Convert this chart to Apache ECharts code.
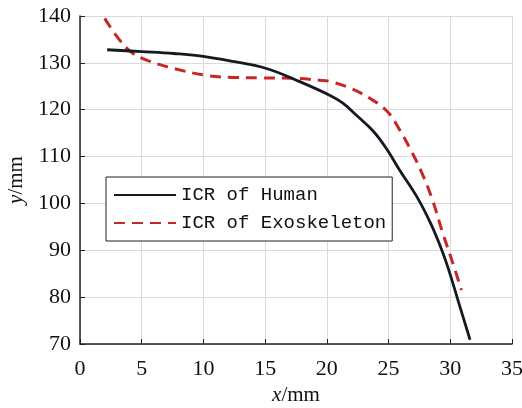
<!DOCTYPE html>
<html>
<head>
<meta charset="utf-8">
<script src="https://cdn.jsdelivr.net/npm/echarts@6/dist/echarts.min.js"></script>
<style>
  html, body { margin: 0; padding: 0; background: #fff; }
  #chart { width: 522px; height: 408px; }
</style>
</head>
<body>
<div id="chart"></div>
<script>
// Instantaneous centre of rotation traces (mm)
const humanX = [2.2, 5.0, 7.6, 9.7, 12.4, 15.1, 17.8, 20.3, 21.3, 22.4, 23.8, 24.9, 25.9, 27.3, 28.4, 29.2, 29.7, 30.3, 30.8, 31.6];
const humanY = [132.8, 132.4, 132.0, 131.5, 130.3, 128.8, 126.0, 123.0, 121.4, 118.8, 115.3, 111.4, 107.1, 101.4, 95.8, 90.8, 87.2, 82.2, 77.8, 70.9];

const exoX = [2.0, 3.2, 4.3, 5.7, 7.6, 10.3, 12.4, 14.6, 17.3, 19.4, 20.3, 21.9, 23.5, 24.9, 25.9, 26.8, 27.6, 28.5, 29.4, 30.3, 30.9];
const exoY = [139.5, 134.9, 132.0, 130.3, 128.8, 127.3, 126.9, 126.8, 126.7, 126.3, 126.0, 124.6, 122.4, 119.6, 115.7, 111.4, 107.1, 101.2, 93.6, 86.5, 81.5];

const seriesNames = ['ICR of Human', 'ICR of Exoskeleton'];

const pairs = (xs, ys) => xs.map((x, i) => [x, ys[i]]);

const serif = 'Liberation Serif';
const axisColor = '#222';
const nameRich = {
  i: { fontFamily: serif, fontStyle: 'italic', fontSize: 21, color: '#111' },
  n: { fontFamily: serif, fontSize: 21, color: '#111' }
};

const chart = echarts.init(document.getElementById('chart'));
chart.setOption({
  animation: false,
  backgroundColor: '#fff',
  grid: { left: 80, right: 10, top: 16, bottom: 64, containLabel: false, outerBoundsMode: 'none' },
  legend: {
    left: 106,
    top: 177,
    orient: 'vertical',
    backgroundColor: '#fff',
    borderColor: '#222',
    borderWidth: 1,
    borderRadius: 0,
    padding: [7, 6, 7, 7],
    itemWidth: 62,
    itemHeight: 22,
    itemGap: 6,
    itemStyle: { opacity: 0 },
    textStyle: { fontFamily: 'Liberation Mono', fontSize: 19, color: '#111', lineHeight: 22 },
    data: seriesNames
  },
  xAxis: {
    type: 'value',
    min: 0, max: 35, interval: 5,
    name: '{i|x}{n|/mm}',
    nameLocation: 'middle',
    nameGap: 40,
    nameTextStyle: { rich: nameRich },
    axisLine: { lineStyle: { color: axisColor, width: 1.5 } },
    axisTick: { inside: true, length: 5, lineStyle: { color: axisColor } },
    axisLabel: { fontFamily: serif, fontSize: 22, color: '#111', margin: 14 },
    splitLine: { show: true, lineStyle: { color: '#dadada', width: 1 } }
  },
  yAxis: {
    type: 'value',
    min: 70, max: 140, interval: 10,
    name: '{i|y}{n|/mm}',
    nameLocation: 'middle',
    nameGap: 52,
    nameRotate: 90,
    nameTextStyle: { rich: nameRich },
    axisLine: { show: true, lineStyle: { color: axisColor, width: 1.5 } },
    axisTick: { show: true, inside: true, length: 5, lineStyle: { color: axisColor } },
    axisLabel: { fontFamily: serif, fontSize: 22, color: '#111', margin: 9 },
    splitLine: { show: true, lineStyle: { color: '#dadada', width: 1 } }
  },
  series: [
    {
      name: seriesNames[0],
      type: 'line',
      smooth: 0.4,
      symbol: 'none',
      data: pairs(humanX, humanY),
      lineStyle: { color: '#141a22', width: 2.8 },
      itemStyle: { color: '#141a22' },
      z: 3
    },
    {
      name: seriesNames[1],
      type: 'line',
      smooth: 0.4,
      symbol: 'none',
      data: pairs(exoX, exoY),
      lineStyle: { color: '#c62828', width: 3, type: [11, 7] },
      itemStyle: { color: '#c62828' },
      z: 2
    }
  ]
});
</script>
</body>
</html>
